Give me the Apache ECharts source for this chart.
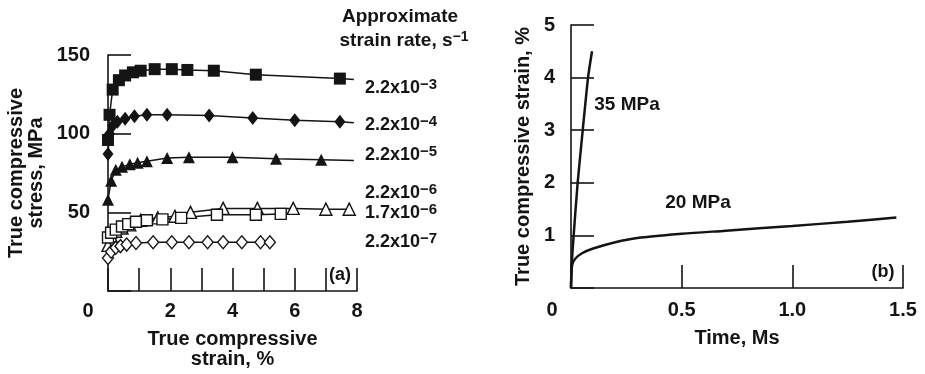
<!DOCTYPE html>
<html>
<head>
<meta charset="utf-8">
<script src="https://cdn.jsdelivr.net/npm/echarts@6/dist/echarts.min.js"></script>
<style>
  html, body { margin: 0; padding: 0; background: #fff; }
  #chart { width: 925px; height: 374px; }
</style>
</head>
<body>
<div id="chart"></div>
<script>
// (a) true compressive strain (%) vs true compressive stress (MPa), one list per strain rate
const rate22e3 = [[0, 96], [0.05, 112], [0.15, 128], [0.35, 134], [0.55, 137], [0.8, 139], [1.05, 140], [1.5, 141], [2.05, 141], [2.55, 140.5], [3.4, 140], [4.75, 137.5], [7.45, 135], [7.9, 134.5]];
const rate22e4 = [[0, 87], [0.05, 100], [0.15, 105], [0.3, 107.5], [0.55, 109.5], [0.85, 111], [1.25, 112], [1.9, 112], [3.25, 111.5], [4.65, 110], [6.0, 108.5], [7.45, 107.5], [7.9, 107]];
const rate22e5 = [[0, 58], [0.1, 70], [0.25, 77], [0.45, 79], [0.7, 80.5], [0.95, 81.5], [1.25, 82.5], [1.9, 84.5], [2.6, 85], [4.0, 85], [5.4, 84], [6.85, 83.5], [7.9, 83]];
const rate22e6 = [[0, 29], [0.1, 35], [0.25, 38], [0.45, 40], [0.7, 42], [1.05, 45], [1.6, 46.5], [2.15, 47.5], [2.65, 50], [3.7, 52.5], [4.8, 52.5], [5.95, 52.5], [7.0, 52], [7.75, 52]];
const rate17e6 = [[0, 34], [0.1, 37], [0.25, 39], [0.45, 41], [0.65, 42.5], [0.9, 44], [1.25, 45], [1.75, 45.5], [2.35, 46.5], [3.5, 48.5], [4.75, 48.5], [5.55, 49]];
const rate22e7 = [[0, 21], [0.1, 25], [0.25, 27.5], [0.4, 28.5], [0.6, 29.5], [0.9, 30.5], [1.45, 31], [2.05, 31], [2.6, 31], [3.2, 31], [3.7, 31], [4.3, 31], [4.9, 31], [5.2, 31]];

// (b) time (Ms) vs true compressive strain (%)
const creep35 = [[0, 0], [0.004, 0.5], [0.012, 1], [0.03, 2], [0.053, 3], [0.077, 4], [0.095, 4.5]];
const creep20 = [[0, 0], [0.002, 0.3], [0.006, 0.45], [0.02, 0.56], [0.05, 0.66], [0.1, 0.75], [0.2, 0.87], [0.3, 0.95], [0.5, 1.03], [0.7, 1.09], [1.0, 1.18], [1.25, 1.26], [1.47, 1.34]];

const rateLabels = [['2.2x10', '−3'], ['2.2x10', '−4'], ['2.2x10', '−5'], ['2.2x10', '−6'], ['1.7x10', '−6'], ['2.2x10', '−7']];

const ink = '#141414';
const font = 'Liberation Sans, Arial, Helvetica, sans-serif';

const chart = echarts.init(document.getElementById('chart'));

function tickLabel(zeroShift, fmt) {
  return {
    color: ink, fontFamily: font, fontWeight: 'bold', fontSize: 20,
    formatter: (v) => (v === 0 ? (zeroShift ? '{z|0}' : '') : fmt(v)),
    rich: { z: { color: ink, fontFamily: font, fontWeight: 'bold', fontSize: 20, padding: [0, zeroShift * 2, 0, 0] } },
  };
}

function axisBase() {
  return {
    axisLine: { show: true, onZero: false, lineStyle: { color: ink, width: 1.6 } },
    axisTick: { show: true, inside: true, length: 23, lineStyle: { color: ink, width: 1.6 } },
    splitLine: { show: false },
    nameTextStyle: { color: ink, fontFamily: font, fontWeight: 'bold', fontSize: 20, lineHeight: 20 },
  };
}

function markerSeries(data, symbol, size, filled, tail) {
  const last = data.length - 1;
  return {
    type: 'line', xAxisIndex: 0, yAxisIndex: 0, data,
    symbol: (val, p) => (tail && p.dataIndex === last ? 'none' : symbol),
    symbolSize: size, showAllSymbol: true,
    lineStyle: { color: ink, width: 1.5 },
    itemStyle: { color: filled ? ink : '#fff', borderColor: ink, borderWidth: filled ? 0 : 1.4 },
  };
}

const textStyle = (extra) => Object.assign({ fill: ink, fontFamily: font, fontWeight: 'bold', fontSize: 19 }, extra);
const rateRows = [88, 125, 155, 193, 213, 242];

const graphics = [
  { type: 'text', x: 400, y: 17, style: textStyle({ text: 'Approximate', align: 'center', verticalAlign: 'middle' }) },
  { type: 'text', x: 404, y: 41, style: textStyle({
      text: '{a|strain rate, s}{s|−1}', align: 'center', verticalAlign: 'middle',
      rich: { a: { fontFamily: font, fontWeight: 'bold', fontSize: 19, lineHeight: 22, fill: ink },
              s: { fontFamily: font, fontWeight: 'bold', fontSize: 14, lineHeight: 14, verticalAlign: 'top', fill: ink } } }) },
  { type: 'text', x: 340, y: 275, style: textStyle({ text: '(a)', align: 'center', verticalAlign: 'middle', fontSize: 18 }) },
  { type: 'text', x: 883, y: 272, style: textStyle({ text: '(b)', align: 'center', verticalAlign: 'middle', fontSize: 18 }) },
  { type: 'text', x: 627, y: 105, style: textStyle({ text: '35 MPa', align: 'center', verticalAlign: 'middle' }) },
  { type: 'text', x: 698, y: 203, style: textStyle({ text: '20 MPa', align: 'center', verticalAlign: 'middle' }) },
];
rateLabels.forEach((lab, i) => {
  graphics.push({ type: 'text', x: 365, y: rateRows[i], style: textStyle({
    text: '{a|' + lab[0] + '}{s|' + lab[1] + '}', align: 'left', verticalAlign: 'middle',
    rich: { a: { fontFamily: font, fontWeight: 'bold', fontSize: 18, lineHeight: 22, fill: ink },
            s: { fontFamily: font, fontWeight: 'bold', fontSize: 15, lineHeight: 15, verticalAlign: 'top', fill: ink } } }) });
});

chart.setOption({
  animation: false,
  backgroundColor: '#fff',
  grid: [
    { left: 108, top: 55, width: 249, height: 237 },
    { left: 571, top: 25, width: 332, height: 263 },
  ],
  xAxis: [
    Object.assign(axisBase(), {
      gridIndex: 0, type: 'value', min: 0, max: 8, interval: 1,
      name: 'True compressive\nstrain, %', nameLocation: 'middle', nameGap: 38,
      axisLabel: Object.assign(tickLabel(20, (v) => (v % 2 === 0 ? String(v) : '')), { margin: 10 }),
    }),
    Object.assign(axisBase(), {
      gridIndex: 1, type: 'value', min: 0, max: 1.5, interval: 0.5,
      name: 'Time, Ms', nameLocation: 'middle', nameGap: 40,
      axisLabel: Object.assign(tickLabel(19, (v) => v.toFixed(1)), { margin: 12 }),
    }),
  ],
  yAxis: [
    Object.assign(axisBase(), {
      gridIndex: 0, type: 'value', min: 0, max: 150, interval: 50,
      name: 'True compressive\nstress, MPa', nameLocation: 'middle', nameGap: 62,
      axisLabel: Object.assign(tickLabel(0, (v) => String(v)), { margin: 18 }),
    }),
    Object.assign(axisBase(), {
      gridIndex: 1, type: 'value', min: 0, max: 5, interval: 1,
      name: 'True compressive strain, %', nameLocation: 'middle', nameGap: 38,
      axisLabel: Object.assign(tickLabel(0, (v) => String(v)), { margin: 16 }),
    }),
  ],
  series: [
    markerSeries(rate22e3, 'rect', 12, true, true),
    markerSeries(rate22e4, 'diamond', [11, 14], true, true),
    markerSeries(rate22e5, 'triangle', 12, true, true),
    markerSeries(rate22e6, 'triangle', 12, false, false),
    markerSeries(rate17e6, 'rect', 11, false, false),
    markerSeries(rate22e7, 'diamond', [11, 13], false, false),
    { type: 'line', xAxisIndex: 1, yAxisIndex: 1, data: creep35, smooth: 0.2, showSymbol: false,
      lineStyle: { color: ink, width: 2.5 } },
    { type: 'line', xAxisIndex: 1, yAxisIndex: 1, data: creep20, smooth: 0.3, showSymbol: false,
      lineStyle: { color: ink, width: 2.5 } },
  ],
  graphic: graphics,
});
</script>
</body>
</html>
